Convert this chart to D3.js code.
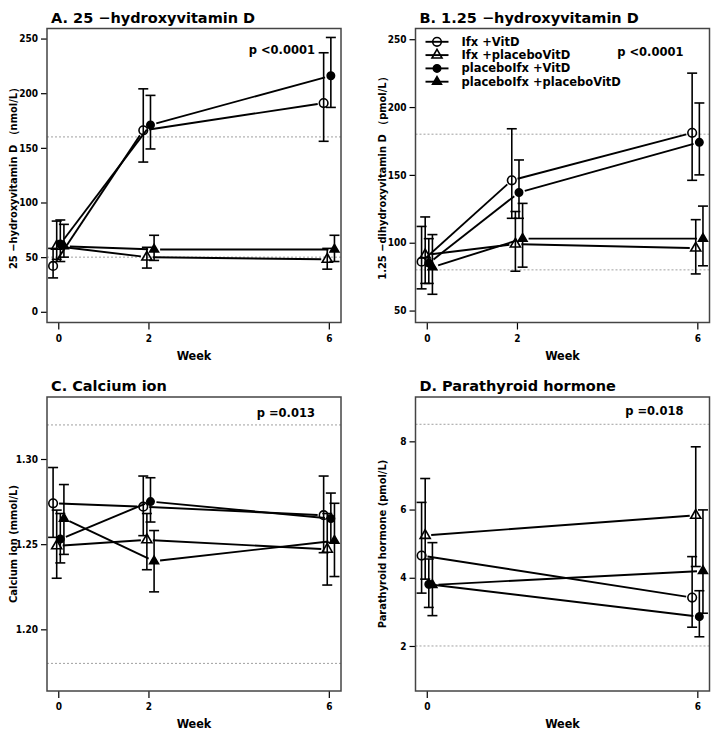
<!DOCTYPE html>
<html>
<head>
<meta charset="utf-8">
<script src="https://cdn.jsdelivr.net/npm/d3@7"></script>
<style>
  body { margin: 0; background: #fff; }
  svg { display: block; }
  .cond { font-family: "DejaVu Sans Condensed", "DejaVu Sans", sans-serif; font-stretch: condensed; font-weight: bold; }
  .bold { font-family: "DejaVu Sans", sans-serif; font-weight: bold; }
</style>
</head>
<body>
<svg id="chart" width="720" height="732"></svg>
<script>
// ---- data ----
const seriesNames = ['Ifx +VitD', 'Ifx +placeboVitD', 'placeboIfx +VitD', 'placeboIfx +placeboVitD'];
const seriesShapes = ['openCircle', 'openTriangle', 'circle', 'triangle'];
const dodge = [-0.115, -0.035, 0.045, 0.125]; // week offsets per group

const weeks3 = [0, 2, 6];
const weeks2 = [0, 6];

// A. 25-hydroxyvitamin D
const aMean = [[42, 166, 191], [60, 50, 48], [62, 171, 216], [60, 57, 57]];
const aLow = [[31, 137, 156], [48, 40, 39], [46, 149, 187], [50, 47, 46]];
const aHigh = [[58, 204, 237], [83, 59, 58], [84, 198, 251], [80, 70, 70]];
const aTicks = [0, 50, 100, 150, 200, 250];
const aRefs = [50, 160];

// B. 1,25-dihydroxyvitamin D
const bMean = [[86, 146, 181], [91, 99, 96], [85, 137, 174], [82, 103, 103]];
const bLow = [[66, 118, 146], [70, 79, 77], [70, 118, 150], [62, 82, 83]];
const bHigh = [[112, 184, 225], [119, 123, 117], [103, 161, 203], [106, 129, 127]];
const bTicks = [50, 100, 150, 200, 250];
const bRefs = [80, 180];

// C. Calcium ion
const cMean = [[1.274, 1.272, 1.267], [1.249, 1.2525, 1.247], [1.253, 1.275, 1.265], [1.265, 1.240, 1.252]];
const cLow = [[1.254, 1.255, 1.245], [1.230, 1.235, 1.226], [1.239, 1.263, 1.251], [1.244, 1.222, 1.231]];
const cHigh = [[1.295, 1.290, 1.290], [1.270, 1.268, 1.268], [1.268, 1.289, 1.280], [1.285, 1.258, 1.274]];
const cTicks = [1.20, 1.25, 1.30];
const cRefs = [1.18, 1.32];

// D. Parathyroid hormone
const dMean = [[4.65, 3.42], [5.24, 5.83], [3.81, 2.86], [3.79, 4.20]];
const dLow = [[3.55, 2.55], [3.96, 4.33], [3.13, 2.27], [2.89, 2.96]];
const dHigh = [[6.21, 4.62], [6.91, 7.84], [4.55, 3.62], [5.03, 5.99]];
const dTicks = [2, 4, 6, 8];
const dRefs = [2, 8.5];

// ---- layout ----
const W = 294, H = 294;
const weekDomain = [-0.25, 6.27];
const GAP = 6; // connecting lines stop short of the markers

const panels = [
  { left: 47, top: 28.5, title: 'A. 25 \u2212hydroxyvitamin  D', ylabel: '25 \u2212hydroxyvitamin D \uff08nmol/L\uff09',
    weeks: weeks3, mean: aMean, low: aLow, high: aHigh, yDomain: [-9.8, 259.2], ticks: aTicks, fmt: d3.format('d'),
    refs: aRefs, p: 'p <0.0001', pY: 25 },
  { left: 415.5, top: 28.5, title: 'B. 1.25 \u2212hydroxyvitamin  D', ylabel: '1.25 \u2212dihydroxyvitamin D \uff08pmol/L\uff09',
    weeks: weeks3, mean: bMean, low: bLow, high: bHigh, yDomain: [41.2, 257.9], ticks: bTicks, fmt: d3.format('d'),
    refs: bRefs, p: 'p <0.0001', pY: 27, legend: true },
  { left: 47, top: 397, title: 'C. Calcium ion', ylabel: 'Calcium ion (mmol/L)',
    weeks: weeks3, mean: cMean, low: cLow, high: cHigh, yDomain: [1.1638, 1.3364], ticks: cTicks, fmt: d3.format('.2f'),
    refs: cRefs, p: 'p =0.013', pY: 20 },
  { left: 415.5, top: 397, title: 'D. Parathyroid hormone', ylabel: 'Parathyroid hormone (pmol/L)',
    weeks: weeks2, mean: dMean, low: dLow, high: dHigh, yDomain: [0.68, 9.30], ticks: dTicks, fmt: d3.format('d'),
    refs: dRefs, p: 'p =0.018', pY: 18 }
];

const svg = d3.select('#chart');

/**
 * Draw one marker of the given shape at (cx, cy)
 */
function drawMarker(sel, shape, cx, cy) {
  if (shape === 'openCircle' || shape === 'circle') {
    sel.append('circle')
      .attr('cx', cx).attr('cy', cy)
      .attr('r', shape === 'circle' ? 3.7 : 4.3)
      .attr('fill', shape === 'circle' ? '#000' : 'none')
      .attr('stroke', '#000')
      .attr('stroke-width', 1.6);
  } else {
    const open = shape === 'openTriangle';
    sel.append('path')
      .attr('d', d3.symbol().type(d3.symbolTriangle).size(open ? 44 : 34)())
      .attr('transform', `translate(${cx},${cy})`)
      .attr('fill', open ? 'none' : '#000')
      .attr('stroke', '#000')
      .attr('stroke-width', 1.6);
  }
}

function drawPanel(cfg) {
  const x = d3.scaleLinear().domain(weekDomain).range([0, W]);
  const y = d3.scaleLinear().domain(cfg.yDomain).range([H, 0]);
  const g = svg.append('g').attr('transform', `translate(${cfg.left},${cfg.top})`);

  // Title
  svg.append('text')
    .attr('class', 'bold')
    .attr('x', cfg.left + 4)
    .attr('y', cfg.top - 6)
    .style('font-size', '14.5px')
    .text(cfg.title);

  // Reference lines
  g.selectAll('line.ref')
    .data(cfg.refs)
    .enter().append('line')
    .attr('class', 'ref')
    .attr('x1', 0).attr('x2', W)
    .attr('y1', d => y(d)).attr('y2', d => y(d))
    .attr('stroke', '#888')
    .attr('stroke-width', 0.8)
    .attr('stroke-dasharray', '2,2');

  // Axes
  const yAxis = g.append('g')
    .call(d3.axisLeft(y).tickValues(cfg.ticks).tickFormat(cfg.fmt).tickSize(6).tickPadding(3));
  const xAxis = g.append('g')
    .attr('transform', `translate(0,${H})`)
    .call(d3.axisBottom(x).tickValues(cfg.weeks).tickFormat(d3.format('d')).tickSize(7).tickPadding(5));
  [yAxis, xAxis].forEach(ax => {
    ax.select('.domain').remove();
    ax.selectAll('line').attr('stroke', '#000').attr('stroke-width', 1.2);
    ax.selectAll('text').attr('class', 'cond').style('font-size', '10px').attr('fill', '#000');
  });

  // Frame
  g.append('rect')
    .attr('width', W).attr('height', H)
    .attr('fill', 'none')
    .attr('stroke', '#444')
    .attr('stroke-width', 1.5);

  // Axis titles
  g.append('text')
    .attr('class', 'cond')
    .attr('x', W / 2).attr('y', H + 37)
    .attr('text-anchor', 'middle')
    .style('font-size', '12.5px')
    .text('Week');
  g.append('text')
    .attr('class', 'cond')
    .attr('transform', `translate(-30,${H / 2}) rotate(-90)`)
    .attr('text-anchor', 'middle')
    .style('font-size', '11px')
    .text(cfg.ylabel);

  // p value
  g.append('text')
    .attr('class', 'bold')
    .attr('x', W - 26).attr('y', cfg.pY)
    .attr('text-anchor', 'end')
    .style('font-size', '11.5px')
    .text(cfg.p);

  // Series
  cfg.mean.forEach((means, i) => {
    const pts = cfg.weeks.map((w, j) => ({
      px: x(w + dodge[i]), py: y(means[j]),
      lo: y(cfg.low[i][j]), hi: y(cfg.high[i][j])
    }));

    // connecting segments, shortened at both ends
    for (let j = 0; j < pts.length - 1; j++) {
      const a = pts[j], b = pts[j + 1];
      const dx = b.px - a.px, dy = b.py - a.py;
      const len = Math.sqrt(dx * dx + dy * dy);
      const ux = dx / len, uy = dy / len;
      g.append('line')
        .attr('x1', a.px + ux * GAP).attr('y1', a.py + uy * GAP)
        .attr('x2', b.px - ux * GAP).attr('y2', b.py - uy * GAP)
        .attr('stroke', '#000')
        .attr('stroke-width', 1.9);
    }

    // error bars
    pts.forEach(p => {
      g.append('line')
        .attr('x1', p.px).attr('x2', p.px)
        .attr('y1', p.lo).attr('y2', p.hi)
        .attr('stroke', '#000').attr('stroke-width', 1.6);
      [p.lo, p.hi].forEach(cy => {
        g.append('line')
          .attr('x1', p.px - 5).attr('x2', p.px + 5)
          .attr('y1', cy).attr('y2', cy)
          .attr('stroke', '#000').attr('stroke-width', 1.6);
      });
    });

    pts.forEach(p => drawMarker(g, seriesShapes[i], p.px, p.py));
  });

  // Legend
  if (cfg.legend) {
    seriesNames.forEach((name, i) => {
      const ly = 13.3 + i * 13.3;
      g.append('line')
        .attr('x1', 10).attr('x2', 33)
        .attr('y1', ly).attr('y2', ly)
        .attr('stroke', '#000').attr('stroke-width', 1.9);
      drawMarker(g, seriesShapes[i], 21.5, ly);
      g.append('text')
        .attr('class', 'bold')
        .attr('x', 46).attr('y', ly + 4)
        .style('font-size', '11.5px')
        .text(name);
    });
  }
}

panels.forEach(drawPanel);
</script>
</body>
</html>
